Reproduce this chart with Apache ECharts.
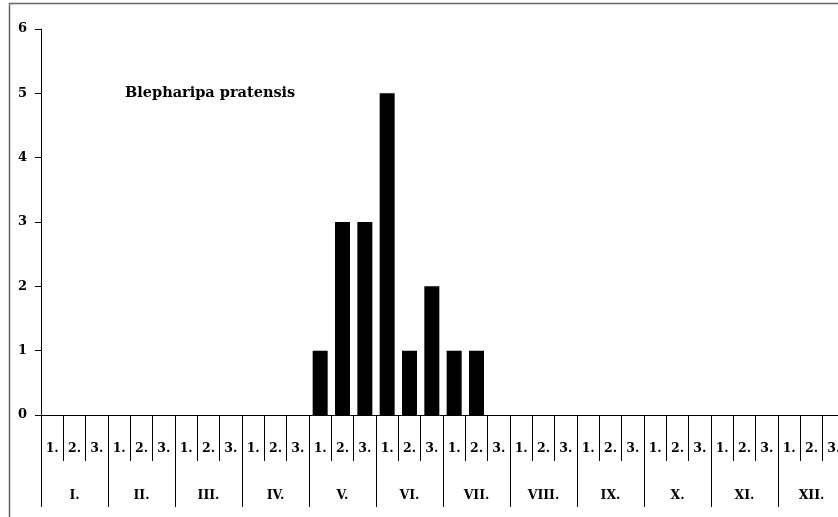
<!DOCTYPE html>
<html><head><meta charset="utf-8">
<script src="https://cdn.jsdelivr.net/npm/echarts@6/dist/echarts.min.js"></script>
<style>html,body{margin:0;padding:0;background:#fff}#c{width:838px;height:517px}</style>
</head><body><div id="c"></div>
<script>
const months = ['I.','II.','III.','IV.','V.','VI.','VII.','VIII.','IX.','X.','XI.','XII.'];
const decades = ['1.','2.','3.'];
const values = [0,0,0, 0,0,0, 0,0,0, 0,0,0, 1,3,3, 5,1,2, 1,1,0, 0,0,0, 0,0,0, 0,0,0, 0,0,0, 0,0,0];
const yTicks = [0,1,2,3,4,5,6];
const title = 'Blepharipa pratensis';

const cats = [];
months.forEach(m => decades.forEach(d => cats.push(m + d)));
const font = '"DejaVu Serif", serif';
const chart = echarts.init(document.getElementById('c'));
chart.setOption({
  animation: false,
  grid: {left: 41, width: 804, top: 29, height: 386, containLabel: false, outerBoundsMode: 'none'},
  graphic: [
    {type: 'rect', shape: {x: 9.5, y: 3.5, width: 860, height: 540}, style: {fill: 'none', stroke: '#666', lineWidth: 1.5}, silent: true},
    {type: 'text', left: 125, top: 86, style: {text: title, font: 'bold 14.5px ' + font, fill: '#000'}}
  ],
  xAxis: [
    {type: 'category', data: cats, position: 'bottom',
     axisLine: {show: true, lineStyle: {color: '#000', width: 1}},
     axisTick: {show: true, interval: 0, length: 46, lineStyle: {color: '#000'}},
     axisLabel: {interval: 0, margin: 27, fontFamily: font, fontWeight: 'bold', fontSize: 12.5, color: '#000',
       formatter: v => v.slice(v.indexOf('.') + 1)}},
    {type: 'category', data: months, position: 'bottom', offset: 0,
     axisLine: {show: false},
     axisTick: {show: true, interval: 0, length: 92, lineStyle: {color: '#000'}},
     axisLabel: {interval: 0, margin: 74, fontFamily: font, fontWeight: 'bold', fontSize: 12.5, color: '#000'}}
  ],
  yAxis: {type: 'value', min: 0, max: 6, interval: 1,
    axisLine: {show: true, lineStyle: {color: '#000'}},
    axisTick: {show: true, length: 6, lineStyle: {color: '#000'}},
    splitLine: {show: false},
    axisLabel: {margin: 14, fontFamily: font, fontWeight: 'bold', fontSize: 13, color: '#000',
      formatter: v => yTicks.includes(v) ? String(v) : ''}},
  series: [{type: 'bar', xAxisIndex: 0, data: values, barWidth: 15,
    itemStyle: {color: '#000', borderWidth: 0}}]
});
</script></body></html>
